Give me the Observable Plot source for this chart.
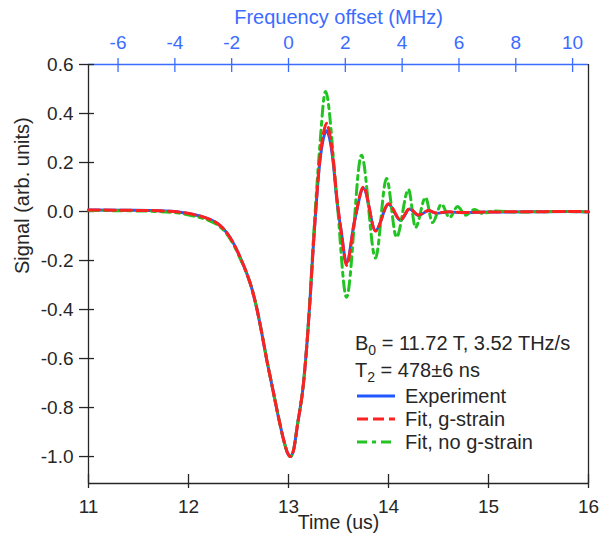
<!DOCTYPE html>
<html><head><meta charset="utf-8">
<script src="https://cdn.jsdelivr.net/npm/d3@7"></script>
<script src="https://cdn.jsdelivr.net/npm/@observablehq/plot@0.6"></script>
<style>
body{margin:0;background:#fff;}
#chart{width:599px;height:543px;}
</style></head><body><div id="chart"></div>
<script>
// ---- data ----
const expTime = [11.00,11.40,11.70,11.90,12.05,12.20,12.30,12.38,12.45,12.52,12.58,12.63,12.68,12.73,12.78,12.84,12.90,12.95,12.99,13.02,13.05,13.09,13.15,13.19,13.22,13.245,13.27,13.31,13.35,13.38,13.41,13.45,13.48,13.53,13.58,13.66,13.75,13.87,14.00,14.12,14.21,14.30,14.40,14.48,14.60,14.75,15.00,15.40,15.80,16.00];
const expSignal = [0.006,0.005,0.003,-0.002,-0.012,-0.030,-0.052,-0.085,-0.13,-0.19,-0.25,-0.31,-0.39,-0.49,-0.60,-0.72,-0.84,-0.93,-0.985,-1.0,-0.975,-0.87,-0.70,-0.51,-0.33,-0.16,-0.01,0.19,0.30,0.33,0.30,0.19,0.06,-0.09,-0.21,-0.04,0.094,-0.078,0.03,-0.036,0.01,-0.016,0.003,-0.007,-0.002,-0.005,-0.002,-0.001,0.000,-0.002];

const fitGTime = [11.00,11.40,11.70,11.90,12.05,12.20,12.30,12.38,12.45,12.52,12.58,12.63,12.68,12.73,12.78,12.84,12.90,12.95,12.99,13.02,13.05,13.09,13.15,13.19,13.22,13.245,13.27,13.31,13.35,13.38,13.41,13.45,13.48,13.53,13.58,13.66,13.75,13.87,14.00,14.12,14.21,14.30,14.40,14.48,14.60,14.75,15.00,15.40,15.80,16.00];
const fitGSignal = [0.006,0.005,0.003,-0.002,-0.012,-0.030,-0.052,-0.085,-0.13,-0.19,-0.25,-0.31,-0.39,-0.49,-0.60,-0.72,-0.84,-0.93,-0.985,-1.0,-0.975,-0.87,-0.70,-0.51,-0.33,-0.16,-0.01,0.20,0.32,0.36,0.32,0.20,0.07,-0.09,-0.22,-0.04,0.10,-0.08,0.032,-0.034,0.012,-0.014,0.004,-0.006,-0.001,-0.004,-0.002,-0.001,0.000,-0.001];

const fitNoGTime = [11.00,11.40,11.70,11.90,12.05,12.20,12.30,12.38,12.45,12.52,12.58,12.63,12.68,12.73,12.78,12.84,12.90,12.95,12.99,13.02,13.05,13.09,13.15,13.19,13.22,13.245,13.27,13.31,13.37,13.48,13.58,13.73,13.87,13.98,14.08,14.20,14.27,14.37,14.44,14.53,14.61,14.69,14.77,14.86,14.94,15.05,15.30,15.70,16.00];
const fitNoGSignal = [0.004,0.003,0.0,-0.006,-0.018,-0.036,-0.058,-0.09,-0.135,-0.195,-0.25,-0.31,-0.39,-0.49,-0.60,-0.72,-0.84,-0.93,-0.985,-1.0,-0.975,-0.87,-0.70,-0.51,-0.32,-0.14,0.02,0.25,0.49,0.07,-0.35,0.23,-0.19,0.135,-0.105,0.09,-0.065,0.057,-0.045,0.03,-0.025,0.02,-0.015,0.008,-0.008,0.002,-0.002,0.0,-0.001];

const timeTicks = [11,12,13,14,15,16];
const signalTicks = [-1.0,-0.8,-0.6,-0.4,-0.2,0.0,0.2,0.4,0.6];
const freqTicks = [-6,-4,-2,0,2,4,6,8,10];
const sweepRate = 3.52;   // MHz per us  (3.52 THz/s)
const centerTime = 13.0;  // time of zero frequency offset
const xDomain = [11, 16];
const yDomain = [-1.11, 0.6];
const seriesNames = ["Experiment", "Fit, g-strain", "Fit, no g-strain"];
const infoLines = ["11.72 T, 3.52 THz/s", "478±6 ns"];

// ---- build table ----
const toRows = (name, t, v) => t.map((d, i) => ({series: name, time: d, signal: v[i]}));
const expRows = toRows(seriesNames[0], expTime, expSignal);
const fitGRows = toRows(seriesNames[1], fitGTime, fitGSignal);
const fitNoGRows = toRows(seriesNames[2], fitNoGTime, fitNoGSignal);

const font = "'Liberation Sans', Arial, Helvetica, sans-serif";
const ink = "#262626";
const axisBlue = "#3b6cff";
const cBlue = "#2158ff", cRed = "#ff2020", cGreen = "#22c322";
const dashRed = "11,5", dashGreen = "10,5,4,5";
const freqTickTimes = freqTicks.map(f => centerTime + f / sweepRate);

const chart = Plot.plot({
  width: 599, height: 543,
  marginLeft: 88, marginRight: 11, marginTop: 64, marginBottom: 60,
  style: {fontFamily: font, fontSize: "18px", color: ink, background: "white", overflow: "visible"},
  x: {domain: xDomain},
  y: {domain: yDomain},
  marks: [
    Plot.ruleX([xDomain[0]], {stroke: ink, strokeWidth: 1.3}),
    Plot.ruleX([xDomain[1]], {stroke: ink, strokeWidth: 1.3}),
    Plot.ruleY([yDomain[0]], {stroke: ink, strokeWidth: 1.3}),
    Plot.ruleY([yDomain[1]], {stroke: axisBlue, strokeWidth: 1.3}),
    // bottom axis
    Plot.axisX({anchor: "bottom", ticks: timeTicks, tickSize: 14, dy: -9, fill: "none", stroke: ink, strokeWidth: 1.3, label: null}),
    Plot.axisX({anchor: "bottom", ticks: timeTicks, tickSize: 0, tickPadding: 16, stroke: "none", fill: ink, fontSize: 19, label: null, tickFormat: d => String(d)}),
    // left axis
    Plot.axisY({anchor: "left", ticks: signalTicks, tickSize: 15, dx: 6, fill: "none", stroke: ink, strokeWidth: 1.3, label: null}),
    Plot.axisY({anchor: "left", ticks: signalTicks, tickSize: 0, tickPadding: 15, stroke: "none", fill: ink, fontSize: 19, label: null, tickFormat: d => d.toFixed(1)}),
    // top axis (frequency offset)
    Plot.axisX({anchor: "top", ticks: freqTickTimes, tickSize: 14, dy: 7, fill: "none", stroke: axisBlue, strokeWidth: 1.3, label: null}),
    Plot.axisX({anchor: "top", ticks: freqTickTimes, tickSize: 0, tickPadding: 16, stroke: "none", fill: axisBlue, fontSize: 19, label: null,
      tickFormat: d => String(Math.round((d - centerTime) * sweepRate))}),
    // axis titles
    Plot.text(["Time (us)"], {frameAnchor: "bottom", dy: 45, fill: ink, fontSize: 19.5}),
    Plot.text(["Signal (arb. units)"], {frameAnchor: "left", rotate: -90, dx: -66, fill: ink, fontSize: 20}),
    Plot.text(["Frequency offset (MHz)"], {frameAnchor: "top", dy: -55, fill: axisBlue, fontSize: 20}),
    // curves
    Plot.line(expRows, {x: "time", y: "signal", stroke: cBlue, strokeWidth: 3, curve: "monotone-x"}),
    Plot.line(fitNoGRows, {x: "time", y: "signal", stroke: cGreen, strokeWidth: 3, strokeDasharray: dashGreen, curve: "monotone-x"}),
    Plot.line(fitGRows, {x: "time", y: "signal", stroke: cRed, strokeWidth: 3, strokeDasharray: dashRed, curve: "monotone-x"})
  ]
});
document.getElementById("chart").appendChild(chart);

// ---- legend block ----
const svg = d3.select(chart);
const lg = svg.append("g").attr("font-family", font).attr("font-size", 20).attr("fill", ink).attr("text-anchor", "start");
const t1 = lg.append("text").attr("x", 355).attr("y", 350);
t1.append("tspan").text("B");
t1.append("tspan").attr("font-size", 14).attr("dy", 5).text("0");
t1.append("tspan").attr("dy", -5).text(" = " + infoLines[0]);
const t2 = lg.append("text").attr("x", 355).attr("y", 377);
t2.append("tspan").text("T");
t2.append("tspan").attr("font-size", 14).attr("dy", 5).text("2");
t2.append("tspan").attr("dy", -5).text(" = " + infoLines[1]);
const entries = [
  {name: seriesNames[0], color: cBlue, dash: null, y: 396},
  {name: seriesNames[1], color: cRed, dash: dashRed, y: 419},
  {name: seriesNames[2], color: cGreen, dash: dashGreen, y: 442}
];
for (const e of entries) {
  lg.append("line").attr("x1", 357).attr("x2", 395).attr("y1", e.y).attr("y2", e.y)
    .attr("stroke", e.color).attr("stroke-width", 3).attr("stroke-dasharray", e.dash);
  lg.append("text").attr("x", 405).attr("y", e.y + 7).text(e.name);
}
</script></body></html>
